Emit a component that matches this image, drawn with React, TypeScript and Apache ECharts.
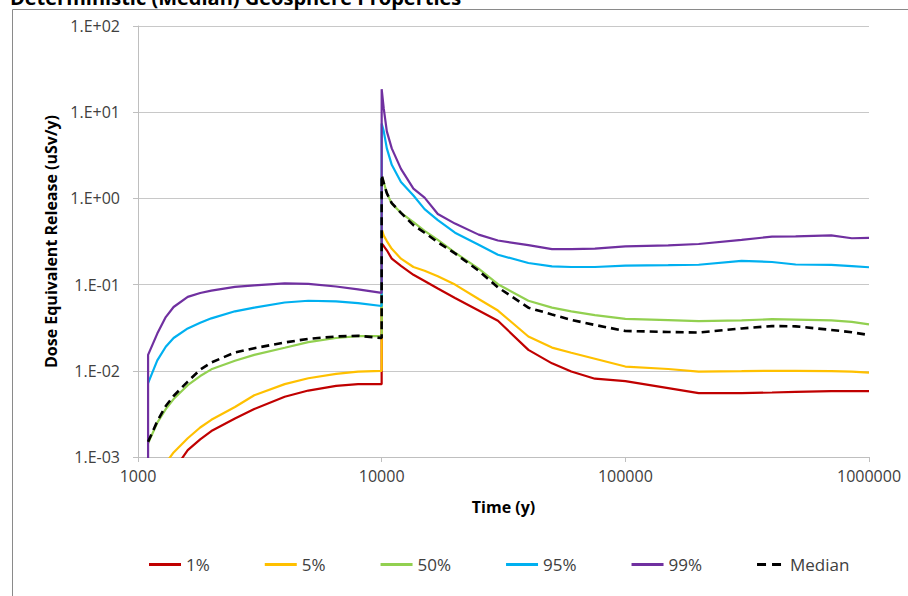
import React, { useEffect, useRef } from "react";
import * as echarts from "echarts";

const time = [1100, 1100, 1200, 1300, 1400, 1600, 1800, 2000, 2500, 3000, 4000, 5000, 6500, 8000, 9999, 10000, 10200, 10500, 11000, 12000, 13500, 15000, 17000, 20000, 25000, 30000, 40000, 50000, 60000, 75000, 100000, 150000, 200000, 300000, 400000, 500000, 700000, 850000, 1000000];

const p1 = [0.0003, 0.0003, 0.0004, 0.00055, 0.0007, 0.0012, 0.0016, 0.002, 0.0028, 0.0036, 0.005, 0.0059, 0.0067, 0.007, 0.007, 0.3, 0.28, 0.25, 0.2, 0.165, 0.13, 0.11, 0.09, 0.07, 0.05, 0.038, 0.0175, 0.0122, 0.0098, 0.0081, 0.0076, 0.0063, 0.0055, 0.0055, 0.0056, 0.0057, 0.0058, 0.0058, 0.0058];
const p5 = [0.0004, 0.0004, 0.0006, 0.00085, 0.00113, 0.00165, 0.0022, 0.0027, 0.0038, 0.0052, 0.007, 0.0082, 0.0092, 0.0098, 0.01, 0.44, 0.37, 0.32, 0.26, 0.2, 0.16, 0.145, 0.125, 0.1, 0.068, 0.05, 0.025, 0.0186, 0.0162, 0.0138, 0.0112, 0.0105, 0.0098, 0.0099, 0.01, 0.01, 0.0099, 0.0098, 0.0095];
const p50 = [0.00144, 0.00144, 0.0025, 0.0036, 0.0047, 0.0068, 0.0087, 0.0104, 0.0131, 0.0153, 0.0185, 0.0215, 0.024, 0.0252, 0.0253, 1.8, 1.55, 1.15, 0.87, 0.68, 0.53, 0.42, 0.33, 0.235, 0.153, 0.101, 0.065, 0.054, 0.049, 0.0442, 0.04, 0.0388, 0.0377, 0.0385, 0.0397, 0.0392, 0.0385, 0.037, 0.0346];
const p95 = [0.0072, 0.0072, 0.0132, 0.019, 0.024, 0.031, 0.036, 0.0406, 0.049, 0.054, 0.062, 0.065, 0.064, 0.061, 0.0565, 7.4, 6.0, 3.8, 2.45, 1.55, 1.08, 0.75, 0.56, 0.4, 0.29, 0.222, 0.178, 0.163, 0.16, 0.16, 0.166, 0.168, 0.17, 0.188, 0.183, 0.171, 0.169, 0.164, 0.159];
const p99 = [0.0005, 0.0153, 0.027, 0.042, 0.055, 0.072, 0.08, 0.085, 0.094, 0.098, 0.1035, 0.102, 0.095, 0.088, 0.08, 18.5, 11, 6.0, 3.8, 2.2, 1.3, 1.02, 0.66, 0.51, 0.38, 0.325, 0.287, 0.258, 0.258, 0.262, 0.278, 0.285, 0.296, 0.33, 0.36, 0.362, 0.372, 0.345, 0.348];
const median = [0.0015, 0.0015, 0.0026, 0.0039, 0.0051, 0.0075, 0.0103, 0.0125, 0.0163, 0.0183, 0.0213, 0.0235, 0.025, 0.0255, 0.024, 1.87, 1.5, 1.15, 0.88, 0.68, 0.49, 0.4, 0.31, 0.23, 0.145, 0.093, 0.054, 0.045, 0.039, 0.034, 0.029, 0.0282, 0.0278, 0.031, 0.033, 0.0328, 0.0298, 0.028, 0.026];

const seriesNames = ["1%", "5%", "50%", "95%", "99%", "Median"];
const seriesColors = ["#C00000", "#FFC000", "#92D050", "#00B0F0", "#7030A0", "#000000"];
const seriesValues = [p1, p5, p50, p95, p99, median];

const titleText = "Deterministic (Median) Geosphere Properties";
const xName = "Time (y)";
const yName = "Dose Equivalent Release (uSv/y)";

const FONT = '"Open Sans", "Noto Sans", sans-serif';

export default function App() {
  const ref = useRef<HTMLDivElement>(null);
  useEffect(() => {
    if (!ref.current) return;
    const chart = echarts.init(ref.current, undefined, { renderer: "svg" });
    const series = seriesNames.map((name, k) => ({
      name,
      type: "line",
      data: time.map((t, i) => [t, seriesValues[k][i]]),
      symbol: "none",
      clip: true,
      z: 2 + k,
      lineStyle: {
        color: seriesColors[k],
        width: name === "Median" ? 2.6 : 2.2,
        type: name === "Median" ? [8, 5] : "solid",
      },
      itemStyle: { color: seriesColors[k] },
    }));
    chart.setOption({
      animation: false,
      textStyle: { fontFamily: FONT },
      graphic: [
        {
          type: "rect",
          shape: { x: 12.5, y: 9.5, width: 1000, height: 1000 },
          style: { fill: "none", stroke: "#8a8a8a", lineWidth: 1 },
          z: -1,
        },
        {
          type: "text",
          left: 10,
          top: -13,
          style: { text: titleText, font: `bold 20px ${FONT}`, fill: "#000" },
        },
      ],
      grid: { left: 138, right: 39, top: 26, bottom: 139, containLabel: false },
      legend: {
        top: 551,
        left: 144,
        itemWidth: 32,
        itemHeight: 3,
        itemGap: 55,
        textStyle: { fontSize: 17, color: "#404040", fontFamily: FONT },
        data: seriesNames.map((n) => ({
          name: n,
          icon: n === "Median" ? "path://M0,0h9v3h-9z M15,0h9v3h-9z" : "rect",
        })),
      },
      xAxis: {
        type: "log",
        logBase: 10,
        min: 1000,
        max: 1000000,
        name: xName,
        nameLocation: "middle",
        nameGap: 42,
        nameTextStyle: { fontSize: 16, fontWeight: "bold", color: "#000", fontFamily: FONT },
        axisLine: { show: true, lineStyle: { color: "#BFBFBF", width: 1 } },
        axisTick: { show: true, length: 5, lineStyle: { color: "#BFBFBF" } },
        axisLabel: {
          fontSize: 16,
          color: "#404040",
          margin: 11,
          formatter: (v: number) => String(Math.round(v)),
        },
        splitLine: { show: false },
      },
      yAxis: {
        type: "log",
        logBase: 10,
        min: 0.001,
        max: 100,
        name: yName,
        nameLocation: "middle",
        nameGap: 76,
        nameTextStyle: { fontSize: 16, fontWeight: "bold", color: "#000", fontFamily: FONT },
        axisLine: { show: true, lineStyle: { color: "#BFBFBF", width: 1 } },
        axisTick: { show: true, length: 5, lineStyle: { color: "#BFBFBF" } },
        axisLabel: {
          fontSize: 16,
          color: "#404040",
          margin: 18,
          formatter: (v: number) => {
            const e = Math.round(Math.log10(v));
            return "1.E" + (e < 0 ? "-" : "+") + String(Math.abs(e)).padStart(2, "0");
          },
        },
        splitLine: { show: true, lineStyle: { color: "#C8C8C8", width: 1 } },
      },
      series,
    });
    return () => chart.dispose();
  }, []);
  return <div ref={ref} style={{ width: 908, height: 596, position: "absolute", left: 0, top: 0 }} />;
}
